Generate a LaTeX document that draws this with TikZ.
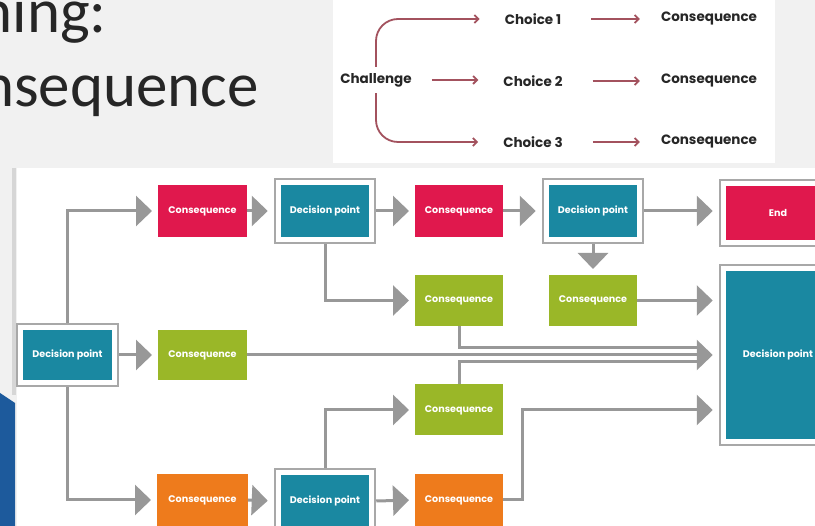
\documentclass[tikz,border=0pt]{standalone}
\usepackage{fontspec}
\setmainfont{Carlito}
\newfontfamily\boxfont{Poppins}
\usetikzlibrary{arrows.meta,fit}
\definecolor{cred}{HTML}{E0184D}
\definecolor{cteal}{HTML}{1A88A1}
\definecolor{cgreen}{HTML}{9AB728}
\definecolor{corange}{HTML}{EE7B1C}
\definecolor{carrow}{HTML}{989898}
\definecolor{cframe}{HTML}{A8A8A8}
\definecolor{cink}{HTML}{262626}
\definecolor{cpink}{HTML}{A3525E}
\definecolor{cbg}{HTML}{F1F1F1}
\definecolor{cblue}{HTML}{1D5A9C}
\begin{document}
\begin{tikzpicture}[x=1pt,y=-1pt,
  box/.style={minimum width=89pt, minimum height=52pt, inner sep=0pt, outer sep=0pt,
    text=white, font=\boxfont\bfseries\fontsize{9.6}{10}\selectfont},
  redbox/.style={box, fill=cred},
  tealbox/.style={box, fill=cteal, minimum width=88pt},
  greenbox/.style={box, fill=cgreen, minimum height=51pt},
  orangebox/.style={box, fill=corange},
  frame/.style={draw=cframe, line width=2.5pt, inner sep=6pt, outer sep=1.25pt},
  conn/.style={draw=carrow, line width=3pt, -{Triangle[width=30pt,length=16pt]}, shorten >=6pt},
  plain/.style={draw=carrow, line width=3pt},
  itext/.style={inner sep=0pt, text=cink, font=\boxfont\bfseries\fontsize{13.5}{14}\selectfont},
  parr/.style={draw=cpink, line width=1.8pt, -{Straight Barb[length=4pt,width=8pt]}}
]
\useasboundingbox (0,0) rectangle (815,526);
\clip (0,0) rectangle (815,526);
% backgrounds
\fill[cbg] (0,0) rectangle (815,526);
\fill[white] (333,0) rectangle (775,163);
\fill[white] (17,168) rectangle (815,526);
\draw[draw={rgb,255:red,214;green,214;blue,214}, line width=4pt] (14,168) -- (14,395);
\fill[cblue] (0,393) -- (15,403) -- (15,526) -- (0,526) -- cycle;
% title
\node[anchor=base east, inner sep=0pt, text=cink, font=\fontsize{63}{70}\selectfont] (t1) at (107,33) {ning:};
\node[anchor=base east, inner sep=0pt, text=cink, font=\fontsize{63}{70}\selectfont] (t2) at (259,107) {nsequence};
% inset
\node[itext] (chal) at (376,80) {Challenge};
\node[itext] (ch1) at (533,19) {Choice 1};
\node[itext] (ch2) at (533,81) {Choice 2};
\node[itext] (ch3) at (533,142) {Choice 3};
\node[itext] (cq1) at (709,19) {Consequence};
\node[itext] (cq2) at (709,81) {Consequence};
\node[itext] (cq3) at (709,142) {Consequence};
\draw[parr, rounded corners=22pt, shorten <=6pt, shorten >=25pt] (chal.north) |- (ch1.west);
\draw[parr, rounded corners=22pt, shorten <=6pt, shorten >=25pt] (chal.south) |- (ch3.west);
\draw[parr, shorten <=20pt, shorten >=25pt] (chal.east) -- (chal.east -| ch2.west);
\draw[parr, shorten <=30pt, shorten >=21pt] (ch1.east) -- (ch1.east -| cq1.west);
\draw[parr, shorten <=30pt, shorten >=21pt] (ch2.east) -- (ch2.east -| cq2.west);
\draw[parr, shorten <=30pt, shorten >=21pt] (ch3.east) -- (ch3.east -| cq3.west);
% boxes
\node[tealbox, minimum width=89pt, minimum height=50pt] (dp0) at (67.5,355) {Decision point};
\node[frame, fit=(dp0)] (dp0f) {};
\node[redbox] (cR1) at (202.5,211) {Consequence};
\node[tealbox] (dp1) at (325,211) {Decision point};
\node[frame, fit=(dp1)] (dp1f) {};
\node[redbox, minimum width=88pt] (cR2) at (459,211) {Consequence};
\node[tealbox] (dp2) at (593,211) {Decision point};
\node[frame, fit=(dp2)] (dp2f) {};
\node[redbox, minimum width=104pt, minimum height=54pt] (end) at (778,213) {End};
\node[frame, fit=(end)] (endf) {};
\node[greenbox, minimum width=88pt] (gA) at (459,300.5) {Consequence};
\node[greenbox, minimum width=88pt] (gB) at (593,300.5) {Consequence};
\node[greenbox, minimum height=50pt] (gC) at (202.5,355) {Consequence};
\node[tealbox, minimum width=104pt, minimum height=168pt] (bdp) at (778,355) {Decision point};
\node[frame, fit=(bdp)] (bdpf) {};
\node[greenbox, minimum width=88pt] (gD) at (459,410) {Consequence};
\node[orangebox, minimum width=91pt] (oC1) at (202.5,500) {Consequence};
\node[tealbox] (dp3) at (325,501) {Decision point};
\node[frame, fit=(dp3)] (dp3f) {};
\node[orangebox, minimum width=88pt] (oC2) at (459,500) {Consequence};
% connectors
\draw[conn] (dp0f.north) |- (cR1.west);
\draw[conn] (dp0f.south) |- (oC1.west);
\draw[conn] (dp0f.east) -- (gC.west);
\draw[conn] (cR1.east) -- (dp1f.west);
\draw[conn] (dp1f.east) -- (cR2.west);
\draw[conn] (dp1f.south) |- (gA.west);
\draw[conn] (cR2.east) -- (dp2f.west);
\draw[conn] (dp2f.east) -- (dp2f.east -| endf.west);
\draw[conn] (dp2f.south) -- (gB.north);
\draw[conn] (gB.east) -- (gB.east -| bdpf.west);
\draw[conn] (gC.east) -- (gC.east -| bdpf.west);
\draw[plain] (gA.south) |- ([xshift=-20pt,yshift=7pt]gC.east -| bdpf.west);
\draw[plain] (gD.north) |- ([xshift=-20pt,yshift=-7pt]gC.east -| bdpf.west);
\draw[conn] (dp3f.north) |- (gD.west);
\draw[conn] (oC2.east) -- ++(19pt,0pt) |- (gD.east -| bdpf.west);
\draw[conn] (oC1.east) -- (dp3f.west);
\draw[conn] (dp3f.east) -- (oC2.west);
\end{tikzpicture}
\end{document}
